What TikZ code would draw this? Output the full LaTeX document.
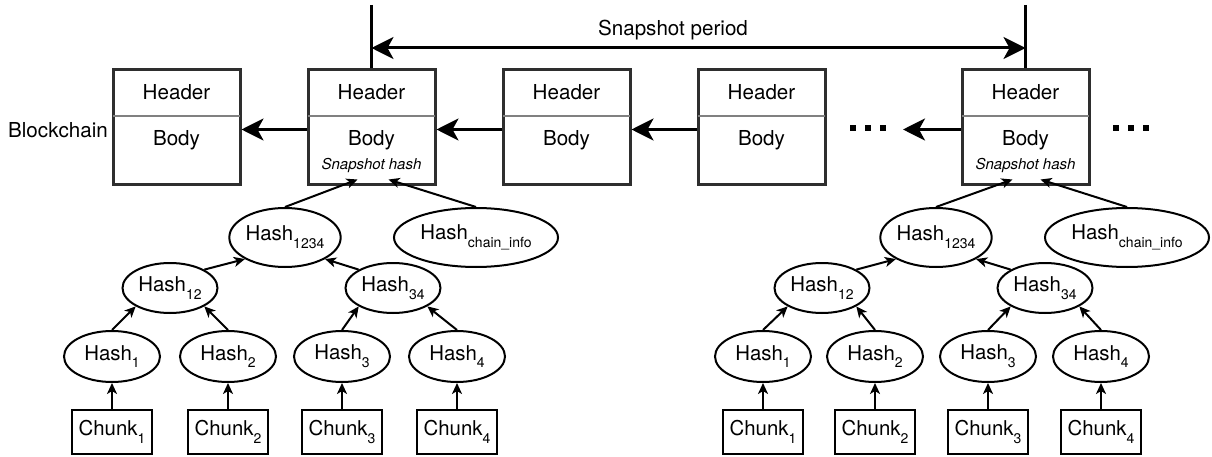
\documentclass[tikz,border=0pt]{standalone}
\usepackage{fontspec}
\setmainfont{TeX Gyre Heros}
\usetikzlibrary{arrows.meta,shapes.geometric,calc}
\newcommand\hsub[1]{\raisebox{-0.38em}{\fontsize{14}{14}\selectfont #1}}
\begin{document}
\begin{tikzpicture}[x=1pt,y=-1pt,
  block/.style={draw=black!82, line width=3pt, minimum width=127pt, minimum height=115pt, inner sep=0pt},
  divider/.style={draw=black!50, line width=2pt},
  txt/.style={font=\fontsize{20.6}{24}\selectfont, inner sep=0pt},
  itxt/.style={font=\fontsize{15}{18}\selectfont\itshape, inner sep=0pt},
  hnode/.style={ellipse, draw, line width=2pt, inner sep=0pt, font=\fontsize{20.4}{24}\selectfont},
  leafh/.style={hnode, minimum width=96pt, minimum height=51pt},
  midh/.style={hnode, minimum width=95pt, minimum height=50pt},
  rooth/.style={hnode, minimum width=110pt, minimum height=59pt},
  infoh/.style={hnode, minimum width=164pt, minimum height=59pt},
  chunkbox/.style={draw, line width=2pt, minimum width=80pt, minimum height=44pt, inner sep=0pt, font=\fontsize{20.4}{24}\selectfont},
  chainarrow/.style={line width=3pt, -{Stealth[length=22pt,width=22pt,inset=6pt]}},
  periodarrow/.style={line width=3pt, {Stealth[length=22pt,width=22pt,inset=6pt]}-{Stealth[length=22pt,width=22pt,inset=6pt]}},
  treearrow/.style={line width=2pt, -{Stealth[length=11pt,width=10pt,inset=3pt]}},
  dots/.style={line width=6pt, dash pattern=on 6pt off 9pt},
]
\useasboundingbox (0,0) rectangle (1212,457);

% blocks
\foreach \n/\x in {1/176.5, 2/371.5, 3/566.5, 4/761.5, 5/1025.5} {
  \node[block] (b\n) at (\x,127.5) {};
  \draw[divider] ($(b\n.west)+(1.5,-11.5)$) -- ($(b\n.east)+(-1.5,-11.5)$);
  \node[txt, anchor=base] (hd\n) at ($(b\n.north)+(0,31)$) {Header};
  \node[txt, anchor=base] (bd\n) at ($(b\n.north)+(0,77)$) {Body};
}
\node[itxt, anchor=base] (sh2) at ($(b2.south)+(0,-17)$) {Snapshot hash};
\node[itxt, anchor=base] (sh5) at ($(b5.south)+(0,-17)$) {Snapshot hash};
\node[txt, anchor=base east] (bc) at (108,138) {Blockchain};

% chain arrows
\draw[chainarrow] ([yshift=-2pt]b2.west) -- ([yshift=-2pt]b1.east);
\draw[chainarrow] ([yshift=-2pt]b3.west) -- ([yshift=-2pt]b2.east);
\draw[chainarrow] ([yshift=-2pt]b4.west) -- ([yshift=-2pt]b3.east);
\coordinate (c5end) at (903,129.5);
\draw[chainarrow] ([yshift=-2pt]b5.west) -- (c5end);
\coordinate (dl1) at (850,128);
\coordinate (dl2) at (887,128);
\coordinate (dr1) at (1113,128);
\coordinate (dr2) at (1150,128);
\draw[dots] (dl1) -- (dl2);
\draw[dots] (dr1) -- (dr2);

% snapshot period
\coordinate (v1) at (371.5,5);
\coordinate (v2) at (1025.5,5);
\coordinate (pa) at (371.5,48);
\coordinate (pb) at (1025.5,48);
\draw[line width=2.5pt] (v1) -- (b2.north);
\draw[line width=2.5pt] (v2) -- (b5.north);
\draw[periodarrow] (pa) -- (pb);
\node[txt, anchor=base] (sp) at (673,36) {Snapshot period};

% trees
\foreach \t/\a/\b/\c/\d/\m/\n/\r/\i/\s/\u/\v in {L/112/228/342/457/170/393/285/476/2/-14/17, R/763/875/988/1101/822/1045/936/1127/5/-13/15} {
  \node[chunkbox] (c1\t) at (\a,432) {Chunk\hsub{1}};
  \node[chunkbox] (c2\t) at (\b,432) {Chunk\hsub{2}};
  \node[chunkbox] (c3\t) at (\c,432) {Chunk\hsub{3}};
  \node[chunkbox] (c4\t) at (\d,432) {Chunk\hsub{4}};
  \node[leafh] (h1\t) at (\a,356.5) {Hash\hsub{1}};
  \node[leafh] (h2\t) at (\b,356.5) {Hash\hsub{2}};
  \node[leafh] (h3\t) at (\c,356.5) {Hash\hsub{3}};
  \node[leafh] (h4\t) at (\d,356.5) {Hash\hsub{4}};
  \node[midh] (h12\t) at (\m,288) {Hash\hsub{12}};
  \node[midh] (h34\t) at (\n,288) {Hash\hsub{34}};
  \node[rooth] (hr\t) at (\r,237.5) {Hash\hsub{1234}};
  \node[infoh] (hi\t) at (\i,237.5) {Hash\hsub{chain\_info}};
  \coordinate (sa\t) at ($(b\s.south)+(\u,-7)$);
  \coordinate (sb\t) at ($(b\s.south)+(\v,-7)$);
  \draw[treearrow] (c1\t.north) -- (h1\t.south);
  \draw[treearrow] (c2\t.north) -- (h2\t.south);
  \draw[treearrow] (c3\t.north) -- (h3\t.south);
  \draw[treearrow] (c4\t.north) -- (h4\t.south);
  \draw[treearrow] (h1\t.north) -- (h12\t.south west);
  \draw[treearrow] (h2\t.north) -- (h12\t.south east);
  \draw[treearrow] (h3\t.north) -- (h34\t.south west);
  \draw[treearrow] (h4\t.north) -- (h34\t.south east);
  \draw[treearrow] (h12\t.north east) -- (hr\t.south west);
  \draw[treearrow] (h34\t.north west) -- (hr\t.south east);
  \draw[treearrow] (hr\t.north) -- (sa\t);
  \draw[treearrow] (hi\t.north) -- (sb\t);
}
\end{tikzpicture}
\end{document}
